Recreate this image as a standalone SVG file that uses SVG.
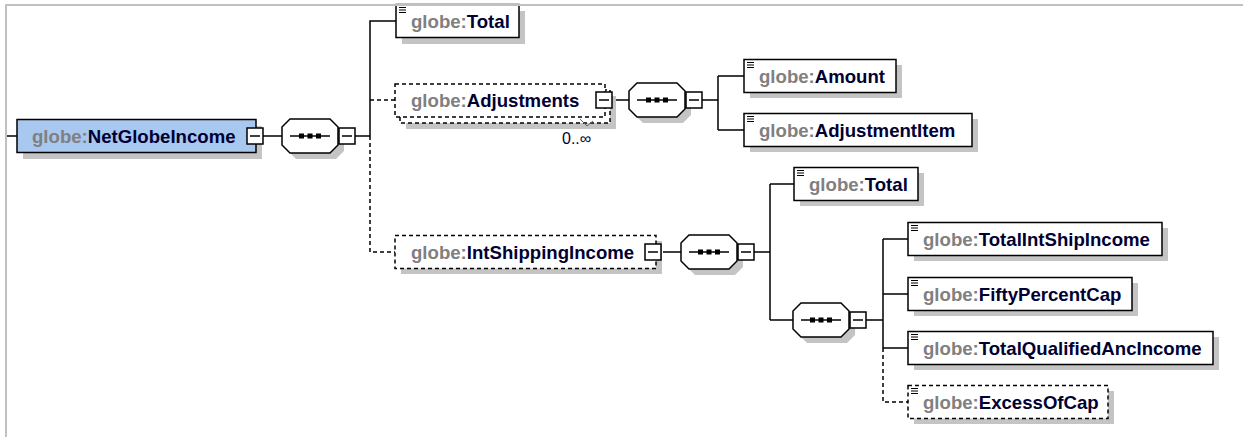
<svg xmlns="http://www.w3.org/2000/svg" xmlns:xlink="http://www.w3.org/1999/xlink" width="1243" height="437" viewBox="0 0 1243 437">
<style>
.box{fill:#fff;stroke:#000;stroke-width:1.5}
.opt{fill:#fff;stroke:#000;stroke-width:1.5;stroke-dasharray:4 3}
.sh{fill:#c4c4c4}
.ln{stroke:#000;stroke-width:1.5;fill:none}
.dl{stroke:#000;stroke-width:1.5;fill:none;stroke-dasharray:4 3}
.t{font-family:"Liberation Sans",Arial,sans-serif;font-size:18.6px;font-weight:bold}
.p{fill:#808080}
.n{fill:#000033}
.frame{stroke:#c0c0c0;stroke-width:2;fill:none}
</style>
<defs>
<path id="icon" d="M0 0.5h7M0 3h7M0 5.5h7" stroke="#000" stroke-width="1.1" fill="none"/>
<g id="btn"><rect x="0" y="0" width="16" height="16" fill="#fff" stroke="#000" stroke-width="1.5"/><path d="M3 8h10" stroke="#000" stroke-width="1.5"/></g>
<g id="seq">
<polygon class="sh" points="14,6 54,6 62,14 62,32 54,40 14,40 6,32 6,14"/>
<polygon class="box" points="8,0 48,0 56,8 56,26 48,34 8,34 0,26 0,8"/>
<path d="M8 17H48" stroke="#000" stroke-width="1.5"/>
<rect x="17" y="14.5" width="5" height="5" fill="#000"/>
<rect x="25.5" y="14.5" width="5" height="5" fill="#000"/>
<rect x="34" y="14.5" width="5" height="5" fill="#000"/>
</g>
</defs>

<g id="connectors">
<path class="ln" d="M7 136H17"/>
<path class="ln" d="M262 136H282"/>
<path class="ln" d="M355 136H370M370 136V21H396"/>
<path class="dl" d="M370 136V252H395M370 100H395"/>
<path class="ln" d="M612 100H629"/>
<path class="ln" d="M702 100H718M718 76V130M718 76H744M718 130H744"/>
<path class="ln" d="M663 252H681"/>
<path class="ln" d="M754 252H770M770 184V320M770 184H794M770 320H793"/>
<path class="ln" d="M866 320H883M883 239V348M883 239H908M883 294H908M883 348H908"/>
<path class="dl" d="M883 348V402H908"/>
</g>

<g id="NetGlobeIncome">
<rect class="sh" x="23" y="126" width="239" height="33"/>
<rect x="17" y="119.5" width="239" height="33" fill="#a8c8f0" stroke="#000" stroke-width="1.5"/>
<text class="t" x="32" y="143"><tspan class="p">globe:</tspan><tspan class="n">NetGlobeIncome</tspan></text>
<use href="#btn" x="247" y="128"/>
</g>

<g id="seq1"><use href="#seq" x="282" y="119"/><use href="#btn" x="339" y="128"/></g>

<g id="Total">
<rect class="sh" x="402" y="11" width="123" height="33"/>
<rect class="box" x="396" y="4.5" width="123" height="33"/>
<use href="#icon" x="399" y="7"/>
<text class="t" x="411" y="28"><tspan class="p">globe:</tspan><tspan class="n">Total</tspan></text>
</g>

<g id="Adjustments">
<rect class="sh" x="406" y="96" width="210" height="33"/>
<rect class="opt" x="400" y="90" width="210" height="33"/>
<rect class="opt" x="395" y="84" width="210" height="33"/>
<text class="t" x="411" y="107"><tspan class="p">globe:</tspan><tspan class="n">Adjustments</tspan></text>
<use href="#btn" x="596" y="92"/>
<polyline points="580,119 587,126 593,121" fill="none" stroke="#666" stroke-width="1"/>
<text x="562" y="144" font-family="'Liberation Sans',Arial,sans-serif" font-size="16" fill="#000033">0..∞</text>
</g>

<g id="seq2"><use href="#seq" x="629" y="83"/><use href="#btn" x="686" y="92"/></g>

<g id="Amount">
<rect class="sh" x="750" y="65" width="152" height="33"/>
<rect class="box" x="744" y="59.5" width="152" height="33"/>
<use href="#icon" x="747" y="62"/>
<text class="t" x="759" y="83"><tspan class="p">globe:</tspan><tspan class="n">Amount</tspan></text>
</g>

<g id="AdjustmentItem">
<rect class="sh" x="750" y="119" width="228" height="33"/>
<rect class="box" x="744" y="113.5" width="228" height="33"/>
<use href="#icon" x="747" y="116"/>
<text class="t" x="759" y="137"><tspan class="p">globe:</tspan><tspan class="n">AdjustmentItem</tspan></text>
</g>

<g id="IntShippingIncome">
<rect class="sh" x="401" y="241" width="261" height="33"/>
<rect class="opt" x="395" y="235.5" width="261" height="33"/>
<text class="t" x="411" y="259"><tspan class="p">globe:</tspan><tspan class="n">IntShippingIncome</tspan></text>
<use href="#btn" x="645" y="244"/>
</g>

<g id="seq3"><use href="#seq" x="681" y="235"/><use href="#btn" x="738" y="244"/></g>

<g id="Total2">
<rect class="sh" x="800" y="173" width="124" height="33"/>
<rect class="box" x="794" y="167.5" width="124" height="33"/>
<use href="#icon" x="797" y="170"/>
<text class="t" x="809" y="191"><tspan class="p">globe:</tspan><tspan class="n">Total</tspan></text>
</g>

<g id="seq4"><use href="#seq" x="793" y="303"/><use href="#btn" x="850" y="312"/></g>

<g id="TotalIntShipIncome">
<rect class="sh" x="914" y="228" width="254" height="33"/>
<rect class="box" x="908" y="222.5" width="254" height="33"/>
<use href="#icon" x="911" y="225"/>
<text class="t" x="923" y="246"><tspan class="p">globe:</tspan><tspan class="n">TotalIntShipIncome</tspan></text>
</g>

<g id="FiftyPercentCap">
<rect class="sh" x="914" y="283" width="224" height="33"/>
<rect class="box" x="908" y="277.5" width="224" height="33"/>
<use href="#icon" x="911" y="280"/>
<text class="t" x="923" y="301"><tspan class="p">globe:</tspan><tspan class="n">FiftyPercentCap</tspan></text>
</g>

<g id="TotalQualifiedAncIncome">
<rect class="sh" x="914" y="337" width="305" height="33"/>
<rect class="box" x="908" y="331.5" width="305" height="33"/>
<use href="#icon" x="911" y="334"/>
<text class="t" x="923" y="355"><tspan class="p">globe:</tspan><tspan class="n">TotalQualifiedAncIncome</tspan></text>
</g>

<g id="ExcessOfCap">
<rect class="sh" x="914" y="391" width="200" height="33"/>
<rect class="opt" x="908" y="385.5" width="200" height="33"/>
<use href="#icon" x="911" y="388"/>
<text class="t" x="923" y="409"><tspan class="p">globe:</tspan><tspan class="n">ExcessOfCap</tspan></text>
</g>

<path class="frame" d="M6 437V5H1243"/>
</svg>
